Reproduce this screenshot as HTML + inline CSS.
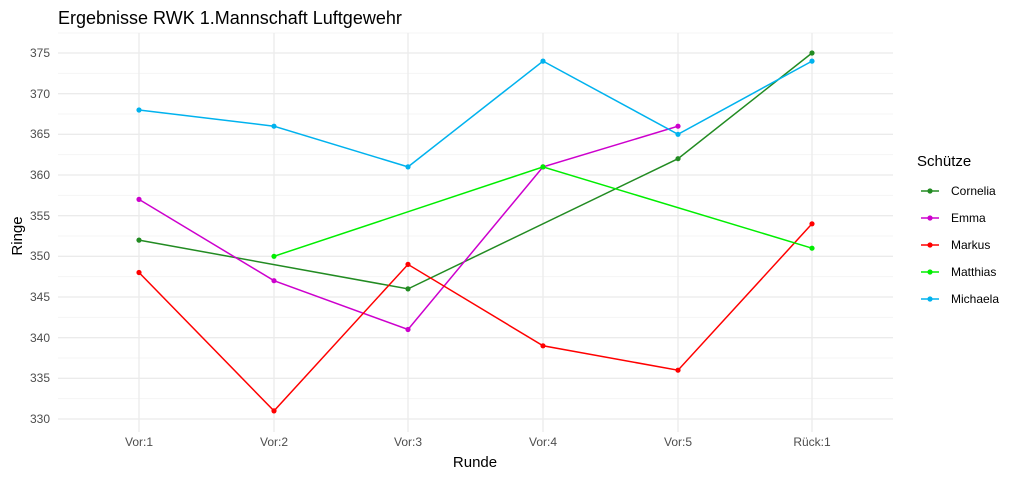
<!DOCTYPE html>
<html><head><meta charset="utf-8"><style>
html,body{margin:0;padding:0;background:#fff;}
svg{display:block;font-family:"Liberation Sans",Arial,sans-serif;}
</style></head><body>
<svg width="1024" height="478" viewBox="0 0 1024 478" xmlns="http://www.w3.org/2000/svg">
<rect width="1024" height="478" fill="#fff"/>
<g stroke="#f3f3f3" stroke-width="0.8">
<line x1="58" x2="893" y1="33" y2="33"/>
<line x1="58" x2="893" y1="73.3" y2="73.3"/>
<line x1="58" x2="893" y1="114" y2="114"/>
<line x1="58" x2="893" y1="154.7" y2="154.7"/>
<line x1="58" x2="893" y1="195.3" y2="195.3"/>
<line x1="58" x2="893" y1="236" y2="236"/>
<line x1="58" x2="893" y1="276.7" y2="276.7"/>
<line x1="58" x2="893" y1="317.3" y2="317.3"/>
<line x1="58" x2="893" y1="358" y2="358"/>
<line x1="58" x2="893" y1="398.7" y2="398.7"/>
</g>
<g stroke="#ebebeb" stroke-width="1.3">
<line x1="58" x2="893" y1="53" y2="53"/>
<line x1="58" x2="893" y1="93.7" y2="93.7"/>
<line x1="58" x2="893" y1="134.3" y2="134.3"/>
<line x1="58" x2="893" y1="175" y2="175"/>
<line x1="58" x2="893" y1="215.7" y2="215.7"/>
<line x1="58" x2="893" y1="256.3" y2="256.3"/>
<line x1="58" x2="893" y1="297" y2="297"/>
<line x1="58" x2="893" y1="337.7" y2="337.7"/>
<line x1="58" x2="893" y1="378.3" y2="378.3"/>
<line x1="58" x2="893" y1="419" y2="419"/>
<line y1="33" y2="432" x1="139" x2="139"/>
<line y1="33" y2="432" x1="274" x2="274"/>
<line y1="33" y2="432" x1="408" x2="408"/>
<line y1="33" y2="432" x1="543" x2="543"/>
<line y1="33" y2="432" x1="678" x2="678"/>
<line y1="33" y2="432" x1="812" x2="812"/>
</g>
<g font-size="12" fill="#4d4d4d" text-anchor="end">
<text x="50" y="57">375</text><text x="50" y="98">370</text><text x="50" y="138">365</text>
<text x="50" y="179">360</text><text x="50" y="220">355</text><text x="50" y="260">350</text>
<text x="50" y="301">345</text><text x="50" y="342">340</text><text x="50" y="382">335</text>
<text x="50" y="423">330</text>
</g>
<g font-size="12" fill="#4d4d4d" text-anchor="middle">
<text x="139" y="446">Vor:1</text><text x="274" y="446">Vor:2</text><text x="408" y="446">Vor:3</text>
<text x="543" y="446">Vor:4</text><text x="678" y="446">Vor:5</text><text x="812" y="446">Rück:1</text>
</g>
<text x="475" y="467" font-size="15" text-anchor="middle">Runde</text>
<text transform="translate(22,236) rotate(-90)" font-size="15" text-anchor="middle">Ringe</text>
<text x="58" y="24" font-size="18">Ergebnisse RWK 1.Mannschaft Luftgewehr</text>
<g fill="none" stroke-width="1.5">
<polyline stroke="#228B22" points="139,240.1 408,288.9 678,158.7 812,53"/>
<polyline stroke="#CD00CD" points="139,199.4 274,280.7 408,329.5 543,166.9 678,126.2"/>
<polyline stroke="#FF0000" points="139,272.5 274,410.9 408,264.4 543,345.8 678,370.2 812,223.8"/>
<polyline stroke="#00EE00" points="274,256.3 543,166.9 812,248.2"/>
<polyline stroke="#00B2EE" points="139,110 274,126.2 408,166.9 543,61.1 678,134.3 812,61.1"/>
</g>
<g fill="#228B22"><circle cx="139" cy="240.1" r="2.6"/><circle cx="408" cy="288.9" r="2.6"/><circle cx="678" cy="158.7" r="2.6"/><circle cx="812" cy="53" r="2.6"/></g>
<g fill="#CD00CD"><circle cx="139" cy="199.4" r="2.6"/><circle cx="274" cy="280.7" r="2.6"/><circle cx="408" cy="329.5" r="2.6"/><circle cx="543" cy="166.9" r="2.6"/><circle cx="678" cy="126.2" r="2.6"/></g>
<g fill="#FF0000"><circle cx="139" cy="272.5" r="2.6"/><circle cx="274" cy="410.9" r="2.6"/><circle cx="408" cy="264.4" r="2.6"/><circle cx="543" cy="345.8" r="2.6"/><circle cx="678" cy="370.2" r="2.6"/><circle cx="812" cy="223.8" r="2.6"/></g>
<g fill="#00EE00"><circle cx="274" cy="256.3" r="2.6"/><circle cx="543" cy="166.9" r="2.6"/><circle cx="812" cy="248.2" r="2.6"/></g>
<g fill="#00B2EE"><circle cx="139" cy="110" r="2.6"/><circle cx="274" cy="126.2" r="2.6"/><circle cx="408" cy="166.9" r="2.6"/><circle cx="543" cy="61.1" r="2.6"/><circle cx="678" cy="134.3" r="2.6"/><circle cx="812" cy="61.1" r="2.6"/></g>
<text x="917" y="166" font-size="15">Schütze</text>
<g stroke-width="1.5">
<line x1="921" x2="939" y1="191" y2="191" stroke="#228B22"/><circle cx="930" cy="191" r="2.6" fill="#228B22"/>
<line x1="921" x2="939" y1="218" y2="218" stroke="#CD00CD"/><circle cx="930" cy="218" r="2.6" fill="#CD00CD"/>
<line x1="921" x2="939" y1="245" y2="245" stroke="#FF0000"/><circle cx="930" cy="245" r="2.6" fill="#FF0000"/>
<line x1="921" x2="939" y1="272" y2="272" stroke="#00EE00"/><circle cx="930" cy="272" r="2.6" fill="#00EE00"/>
<line x1="921" x2="939" y1="299" y2="299" stroke="#00B2EE"/><circle cx="930" cy="299" r="2.6" fill="#00B2EE"/>
</g>
<g font-size="12" fill="#000">
<text x="951" y="195">Cornelia</text><text x="951" y="222">Emma</text><text x="951" y="249">Markus</text>
<text x="951" y="276">Matthias</text><text x="951" y="303">Michaela</text>
</g>
</svg>
</body></html>
